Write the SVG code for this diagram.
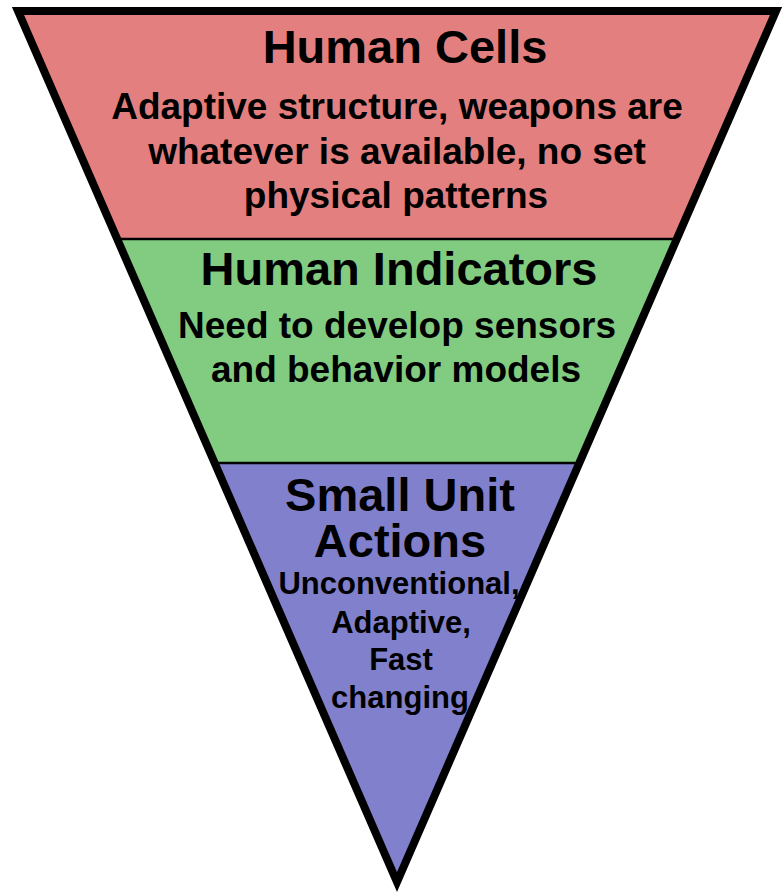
<svg xmlns="http://www.w3.org/2000/svg" width="783" height="894" viewBox="0 0 783 894">
  <style>
    .t { font-family: "Liberation Sans", Arial, sans-serif; font-weight: bold; fill: #000; text-anchor: middle; }
    .h { font-size: 47px; }
    .b { font-size: 37px; }
    .s { font-size: 31px; }
    .div { stroke: #000; stroke-width: 2.5; }
  </style>
  <rect width="783" height="894" fill="#fff"/>
  <g id="tier-human-cells">
    <polygon points="18,11 776,11 676.8,239 117.2,239" fill="#E47F7F"/>
    <text class="t h" x="405" y="63">Human Cells</text>
    <text class="t b" x="397" y="119">Adaptive structure, weapons are</text>
    <text class="t b" x="397" y="164">whatever is available, no set</text>
    <text class="t b" x="396" y="208">physical patterns</text>
  </g>
  <g id="tier-human-indicators">
    <polygon points="117.2,239 676.8,239 579.3,463 214.7,463" fill="#82CC82"/>
    <text class="t h" x="399" y="285">Human Indicators</text>
    <text class="t b" x="397" y="338">Need to develop sensors</text>
    <text class="t b" x="396" y="382">and behavior models</text>
  </g>
  <g id="tier-small-unit-actions">
    <polygon points="214.7,463 579.3,463 397,882" fill="#8080CC"/>
    <text class="t h" x="400" y="511">Small Unit</text>
    <text class="t h" x="400" y="557">Actions</text>
    <text class="t s" x="399" y="594">Unconventional,</text>
    <text class="t s" x="401" y="633">Adaptive,</text>
    <text class="t s" x="401" y="670">Fast</text>
    <text class="t s" x="400" y="708">changing</text>
  </g>
  <g id="connectors">
    <line class="div" x1="117.2" y1="239" x2="676.8" y2="239"/>
    <line class="div" x1="214.7" y1="463" x2="579.3" y2="463"/>
    <polygon points="18,11 776,11 397,882" fill="none" stroke="#000" stroke-width="8" stroke-linejoin="miter" stroke-miterlimit="10"/>
  </g>
</svg>
